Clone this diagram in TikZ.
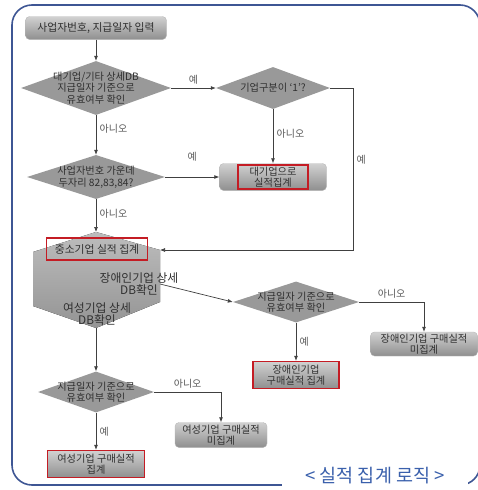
\documentclass[tikz,border=0pt]{standalone}
\usepackage{fontspec}
\setmainfont{Noto Sans CJK KR}
\usetikzlibrary{arrows.meta,shapes.geometric}
\definecolor{frameblue}{RGB}{62,86,148}
\definecolor{capblue}{RGB}{58,96,172}
\definecolor{txtgray}{RGB}{48,48,48}
\definecolor{hlred}{RGB}{196,28,36}

\begin{document}
\begin{tikzpicture}[x=1pt,y=-1pt,>={Latex[length=5pt,width=4pt]},font=\fontsize{10.2}{11.5}\selectfont]
  \tikzset{
    procbox/.style={rounded corners=4pt,top color=black!18,bottom color=black!44,draw=black!28,text=txtgray,align=center,inner sep=1pt},
    hlbox/.style={draw=hlred,line width=1.4pt,align=center,inner sep=1pt,text=txtgray},
    decision/.style={diamond,aspect=2.8,fill=black!40,text=txtgray,align=center,inner xsep=-14pt,inner ysep=-3pt},
    flow/.style={->,black!75,line width=0.7pt},
    lbl/.style={text=black!65,font=\fontsize{10}{11}\selectfont}
  }
  \useasboundingbox (0,0) rectangle (478,490);

  % frame and caption
  \draw[frameblue,line width=1.6pt,rounded corners=20pt] (12,5) rectangle (480,485);
  \node[fill=white,minimum width=186,minimum height=22,text=capblue,font=\fontsize{18.5}{19}\selectfont] (caption) at (375,476) {< 실적 집계 로직 >};

  % first checks
  \node[procbox,minimum width=141,minimum height=23,font=\fontsize{10.8}{12}\selectfont] (start) at (96,28) {사업자번호, 지급일자 입력};
  \node[decision,minimum width=150,minimum height=54] (bigdb) at (96,88) {대기업/기타 상세DB\\지급일자 기준으로\\유효여부 확인};
  \node[decision,minimum width=114,minimum height=42] (kind) at (273,88) {기업구분이 ‘1’?};
  \node[decision,minimum width=138,minimum height=44] (bizno) at (96,177) {사업자번호 가운데\\두자리 82,83,84?};
  \node[procbox,minimum width=107,minimum height=27] (largebox) at (273,177) {};
  \node[hlbox,minimum width=70,minimum height=24] (largetxt) at (largebox) {대기업으로\\실적집계};

  % small business block
  \coordinate (hxN) at (96,232);
  \coordinate (hxNE) at (160,250);
  \coordinate (hxE) at (160,284);
  \coordinate (hxSE) at (160,302);
  \coordinate (hxS) at (96,328);
  \coordinate (hxSW) at (33,306);
  \coordinate (hxNW) at (33,252);
  \fill[top color=black!26,bottom color=black!42] (hxN) -- (hxNE) -- (hxSE) -- (hxS) -- (hxSW) -- (hxNW) -- cycle;
  \node[hlbox,minimum width=101,minimum height=22,font=\fontsize{10.8}{12}\selectfont] (smb) at (97,249) {중소기업 실적 집계};
  \node[text=txtgray,align=center,font=\fontsize{11.8}{12.5}\selectfont] (disdb) at (139,284) {장애인기업 상세\\DB확인};
  \node[text=txtgray,align=center,font=\fontsize{11.8}{12.5}\selectfont] (womdb) at (97,314) {여성기업 상세\\DB확인};

  % disabled-owned branch
  \node[decision,minimum width=126,minimum height=41] (chkdis) at (296,302) {지급일자 기준으로\\유효여부 확인};
  \node[procbox,minimum width=107,minimum height=24] (disno) at (424,344) {장애인기업 구매실적\\미집계};
  \node[procbox,hlbox,rounded corners=0pt,minimum width=86,minimum height=27] (disyes) at (296,375) {장애인기업\\구매실적 집계};

  % women-owned branch
  \node[decision,minimum width=116,minimum height=41] (chkwom) at (96,392) {지급일자 기준으로\\유효여부 확인};
  \node[procbox,minimum width=92,minimum height=25] (womno) at (221,435) {여성기업 구매실적\\미집계};
  \node[procbox,hlbox,rounded corners=0pt,minimum width=97,minimum height=27] (womyes) at (96,464) {여성기업 구매실적\\집계};

  \coordinate (yesturn) at (353,250);

  \draw[flow] (start) -- (bigdb);
  \draw[flow] (bigdb) -- node[lbl,above]{예} (kind);
  \draw[flow] (kind) -- node[lbl,right,pos=0.45]{아니오} (largebox);
  \draw[flow] (kind.east) -| node[lbl,right,pos=0.72]{예} (yesturn) -- (hxNE);
  \draw[flow] (bigdb) -- node[lbl,right,pos=0.35]{아니오} (bizno);
  \draw[flow] (bizno) -- node[lbl,above=12pt]{예} (largebox);
  \draw[flow] (bizno) -- node[lbl,right,pos=0.45]{아니오} (hxN);
  \draw[flow] (hxE) -- (chkdis.west);
  \draw[flow] (chkdis.east) -| node[lbl,above,pos=0.25]{아니오} (disno.north);
  \draw[flow] (chkdis) -- node[lbl,right]{예} (disyes);
  \draw[flow] (hxS) -- (chkwom);
  \draw[flow] (chkwom.east) -| node[lbl,above,pos=0.25]{아니오} (womno.north);
  \draw[flow] (chkwom) -- node[lbl,right]{예} (womyes);
\end{tikzpicture}
\end{document}
